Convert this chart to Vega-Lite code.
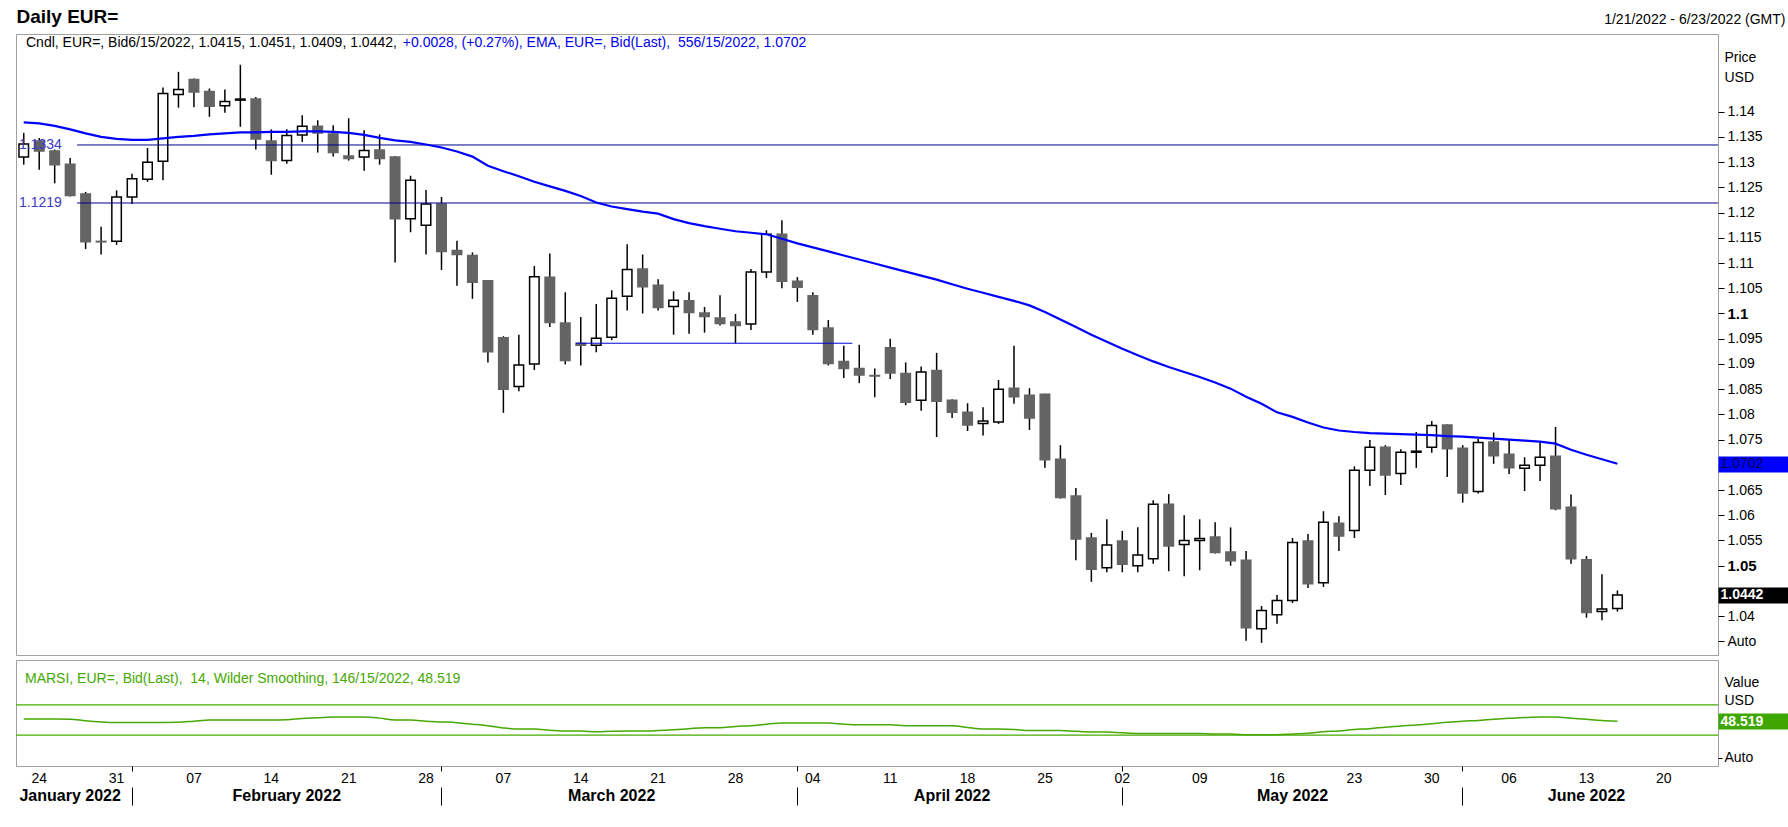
{
  "$schema": "https://vega.github.io/schema/vega-lite/v6.json",
  "background": "white",
  "padding": {"left": 14, "top": 6, "right": 0, "bottom": 0},
  "config": {
    "view": {"stroke": "#a0a0a0"},
    "font": "Liberation Sans",
    "axis": {"grid": false, "labelFont": "Liberation Sans", "titleFont": "Liberation Sans"}
  },
  "datasets": {
    "eur": [
      {"date": "2022-01-21", "open": 1.1310, "high": 1.1358, "low": 1.1295, "close": 1.1336, "ema": 1.1379, "rsi": 51.3},
      {"date": "2022-01-24", "open": 1.1342, "high": 1.1348, "low": 1.1285, "close": 1.1322, "ema": 1.1377, "rsi": 51.3},
      {"date": "2022-01-25", "open": 1.1322, "high": 1.1325, "low": 1.1258, "close": 1.1295, "ema": 1.1372, "rsi": 51.3},
      {"date": "2022-01-26", "open": 1.1296, "high": 1.1308, "low": 1.1232, "close": 1.1234, "ema": 1.1365, "rsi": 51.0},
      {"date": "2022-01-27", "open": 1.1237, "high": 1.1241, "low": 1.1128, "close": 1.1142, "ema": 1.1357, "rsi": 49.0},
      {"date": "2022-01-28", "open": 1.1143, "high": 1.1172, "low": 1.1117, "close": 1.1142, "ema": 1.1350, "rsi": 47.5},
      {"date": "2022-01-31", "open": 1.1143, "high": 1.1244, "low": 1.1136, "close": 1.1231, "ema": 1.1346, "rsi": 46.8},
      {"date": "2022-02-01", "open": 1.1231, "high": 1.1277, "low": 1.1217, "close": 1.1267, "ema": 1.1344, "rsi": 46.8},
      {"date": "2022-02-02", "open": 1.1266, "high": 1.1328, "low": 1.1261, "close": 1.1300, "ema": 1.1344, "rsi": 46.8},
      {"date": "2022-02-03", "open": 1.1302, "high": 1.1448, "low": 1.1264, "close": 1.1436, "ema": 1.1347, "rsi": 46.8},
      {"date": "2022-02-04", "open": 1.1434, "high": 1.1479, "low": 1.1408, "close": 1.1444, "ema": 1.1350, "rsi": 47.0},
      {"date": "2022-02-07", "open": 1.1464, "high": 1.1466, "low": 1.1409, "close": 1.1439, "ema": 1.1352, "rsi": 48.5},
      {"date": "2022-02-08", "open": 1.1440, "high": 1.1446, "low": 1.1390, "close": 1.1411, "ema": 1.1355, "rsi": 50.0},
      {"date": "2022-02-09", "open": 1.1412, "high": 1.1444, "low": 1.1398, "close": 1.1420, "ema": 1.1357, "rsi": 50.0},
      {"date": "2022-02-10", "open": 1.1423, "high": 1.1493, "low": 1.1370, "close": 1.1425, "ema": 1.1359, "rsi": 50.0},
      {"date": "2022-02-11", "open": 1.1425, "high": 1.1429, "low": 1.1325, "close": 1.1346, "ema": 1.1359, "rsi": 50.0},
      {"date": "2022-02-14", "open": 1.1342, "high": 1.1365, "low": 1.1275, "close": 1.1303, "ema": 1.1360, "rsi": 50.0},
      {"date": "2022-02-15", "open": 1.1303, "high": 1.1365, "low": 1.1297, "close": 1.1353, "ema": 1.1360, "rsi": 50.5},
      {"date": "2022-02-16", "open": 1.1354, "high": 1.1393, "low": 1.1340, "close": 1.1371, "ema": 1.1361, "rsi": 52.0},
      {"date": "2022-02-17", "open": 1.1371, "high": 1.1383, "low": 1.1319, "close": 1.1358, "ema": 1.1361, "rsi": 53.0},
      {"date": "2022-02-18", "open": 1.1356, "high": 1.1373, "low": 1.1311, "close": 1.1319, "ema": 1.1360, "rsi": 54.0},
      {"date": "2022-02-21", "open": 1.1312, "high": 1.1387, "low": 1.1303, "close": 1.1307, "ema": 1.1358, "rsi": 54.0},
      {"date": "2022-02-22", "open": 1.1310, "high": 1.1363, "low": 1.1283, "close": 1.1323, "ema": 1.1354, "rsi": 54.0},
      {"date": "2022-02-23", "open": 1.1324, "high": 1.1355, "low": 1.1295, "close": 1.1307, "ema": 1.1348, "rsi": 52.5},
      {"date": "2022-02-24", "open": 1.1310, "high": 1.1312, "low": 1.1101, "close": 1.1188, "ema": 1.1343, "rsi": 50.0},
      {"date": "2022-02-25", "open": 1.1188, "high": 1.1273, "low": 1.1161, "close": 1.1264, "ema": 1.1340, "rsi": 50.0},
      {"date": "2022-02-28", "open": 1.1175, "high": 1.1245, "low": 1.1117, "close": 1.1217, "ema": 1.1335, "rsi": 48.5},
      {"date": "2022-03-01", "open": 1.1217, "high": 1.1231, "low": 1.1086, "close": 1.1123, "ema": 1.1329, "rsi": 47.5},
      {"date": "2022-03-02", "open": 1.1125, "high": 1.1144, "low": 1.1055, "close": 1.1117, "ema": 1.1321, "rsi": 46.5},
      {"date": "2022-03-03", "open": 1.1115, "high": 1.1121, "low": 1.1029, "close": 1.1062, "ema": 1.1311, "rsi": 44.5},
      {"date": "2022-03-04", "open": 1.1065, "high": 1.1066, "low": 1.0903, "close": 1.0924, "ema": 1.1293, "rsi": 42.4},
      {"date": "2022-03-07", "open": 1.0952, "high": 1.0955, "low": 1.0803, "close": 1.0850, "ema": 1.1282, "rsi": 39.5},
      {"date": "2022-03-08", "open": 1.0855, "high": 1.0958, "low": 1.0846, "close": 1.0898, "ema": 1.1272, "rsi": 38.0},
      {"date": "2022-03-09", "open": 1.0900, "high": 1.1094, "low": 1.0888, "close": 1.1073, "ema": 1.1261, "rsi": 38.0},
      {"date": "2022-03-10", "open": 1.1072, "high": 1.1119, "low": 1.0973, "close": 1.0982, "ema": 1.1252, "rsi": 36.5},
      {"date": "2022-03-11", "open": 1.0981, "high": 1.1042, "low": 1.0899, "close": 1.0907, "ema": 1.1243, "rsi": 35.3},
      {"date": "2022-03-14", "open": 1.0941, "high": 1.0993, "low": 1.0897, "close": 1.0937, "ema": 1.1233, "rsi": 35.3},
      {"date": "2022-03-15", "open": 1.0937, "high": 1.1019, "low": 1.0923, "close": 1.0951, "ema": 1.1220, "rsi": 34.4},
      {"date": "2022-03-16", "open": 1.0953, "high": 1.1046, "low": 1.0947, "close": 1.1030, "ema": 1.1212, "rsi": 35.0},
      {"date": "2022-03-17", "open": 1.1034, "high": 1.1137, "low": 1.1006, "close": 1.1087, "ema": 1.1207, "rsi": 35.3},
      {"date": "2022-03-18", "open": 1.1088, "high": 1.1117, "low": 1.1000, "close": 1.1053, "ema": 1.1202, "rsi": 35.3},
      {"date": "2022-03-21", "open": 1.1056, "high": 1.1068, "low": 1.1006, "close": 1.1012, "ema": 1.1198, "rsi": 36.0},
      {"date": "2022-03-22", "open": 1.1014, "high": 1.1044, "low": 1.0958, "close": 1.1026, "ema": 1.1187, "rsi": 37.1},
      {"date": "2022-03-23", "open": 1.1025, "high": 1.1042, "low": 1.0960, "close": 1.1002, "ema": 1.1179, "rsi": 38.5},
      {"date": "2022-03-24", "open": 1.1001, "high": 1.1013, "low": 1.0962, "close": 1.0994, "ema": 1.1173, "rsi": 39.7},
      {"date": "2022-03-25", "open": 1.0991, "high": 1.1036, "low": 1.0976, "close": 1.0980, "ema": 1.1168, "rsi": 39.7},
      {"date": "2022-03-28", "open": 1.0983, "high": 1.0999, "low": 1.0941, "close": 1.0976, "ema": 1.1163, "rsi": 41.5},
      {"date": "2022-03-29", "open": 1.0979, "high": 1.1088, "low": 1.0967, "close": 1.1082, "ema": 1.1160, "rsi": 42.4},
      {"date": "2022-03-30", "open": 1.1082, "high": 1.1165, "low": 1.1070, "close": 1.1157, "ema": 1.1157, "rsi": 44.5},
      {"date": "2022-03-31", "open": 1.1157, "high": 1.1185, "low": 1.1050, "close": 1.1064, "ema": 1.1148, "rsi": 46.0},
      {"date": "2022-04-01", "open": 1.1064, "high": 1.1072, "low": 1.1023, "close": 1.1052, "ema": 1.1139, "rsi": 46.0},
      {"date": "2022-04-04", "open": 1.1035, "high": 1.1042, "low": 1.0958, "close": 1.0968, "ema": 1.1131, "rsi": 46.0},
      {"date": "2022-04-05", "open": 1.0971, "high": 1.0987, "low": 1.0897, "close": 1.0901, "ema": 1.1123, "rsi": 46.0},
      {"date": "2022-04-06", "open": 1.0905, "high": 1.0936, "low": 1.0872, "close": 1.0891, "ema": 1.1115, "rsi": 44.5},
      {"date": "2022-04-07", "open": 1.0891, "high": 1.0938, "low": 1.0862, "close": 1.0878, "ema": 1.1107, "rsi": 43.7},
      {"date": "2022-04-08", "open": 1.0877, "high": 1.0891, "low": 1.0834, "close": 1.0876, "ema": 1.1099, "rsi": 43.7},
      {"date": "2022-04-11", "open": 1.0932, "high": 1.0950, "low": 1.0870, "close": 1.0882, "ema": 1.1091, "rsi": 43.7},
      {"date": "2022-04-12", "open": 1.0881, "high": 1.0903, "low": 1.0818, "close": 1.0824, "ema": 1.1083, "rsi": 42.4},
      {"date": "2022-04-13", "open": 1.0828, "high": 1.0895, "low": 1.0807, "close": 1.0884, "ema": 1.1075, "rsi": 42.4},
      {"date": "2022-04-14", "open": 1.0887, "high": 1.0922, "low": 1.0755, "close": 1.0826, "ema": 1.1067, "rsi": 42.4},
      {"date": "2022-04-15", "open": 1.0828, "high": 1.0830, "low": 1.0793, "close": 1.0804, "ema": 1.1058, "rsi": 42.4},
      {"date": "2022-04-18", "open": 1.0804, "high": 1.0822, "low": 1.0767, "close": 1.0779, "ema": 1.1049, "rsi": 40.0},
      {"date": "2022-04-19", "open": 1.0782, "high": 1.0814, "low": 1.0758, "close": 1.0787, "ema": 1.1041, "rsi": 38.0},
      {"date": "2022-04-20", "open": 1.0785, "high": 1.0868, "low": 1.0781, "close": 1.0850, "ema": 1.1033, "rsi": 38.0},
      {"date": "2022-04-21", "open": 1.0852, "high": 1.0936, "low": 1.0821, "close": 1.0835, "ema": 1.1025, "rsi": 37.5},
      {"date": "2022-04-22", "open": 1.0838, "high": 1.0852, "low": 1.0769, "close": 1.0793, "ema": 1.1016, "rsi": 36.2},
      {"date": "2022-04-25", "open": 1.0840, "high": 1.0841, "low": 1.0694, "close": 1.0710, "ema": 1.1003, "rsi": 36.2},
      {"date": "2022-04-26", "open": 1.0711, "high": 1.0739, "low": 1.0633, "close": 1.0635, "ema": 1.0988, "rsi": 36.2},
      {"date": "2022-04-27", "open": 1.0638, "high": 1.0654, "low": 1.0511, "close": 1.0553, "ema": 1.0973, "rsi": 35.0},
      {"date": "2022-04-28", "open": 1.0555, "high": 1.0565, "low": 1.0468, "close": 1.0493, "ema": 1.0958, "rsi": 34.0},
      {"date": "2022-04-29", "open": 1.0496, "high": 1.0592, "low": 1.0487, "close": 1.0541, "ema": 1.0944, "rsi": 34.0},
      {"date": "2022-05-02", "open": 1.0549, "high": 1.0569, "low": 1.0487, "close": 1.0503, "ema": 1.0930, "rsi": 33.0},
      {"date": "2022-05-03", "open": 1.0500, "high": 1.0576, "low": 1.0487, "close": 1.0521, "ema": 1.0917, "rsi": 32.2},
      {"date": "2022-05-04", "open": 1.0514, "high": 1.0630, "low": 1.0504, "close": 1.0622, "ema": 1.0905, "rsi": 32.2},
      {"date": "2022-05-05", "open": 1.0622, "high": 1.0642, "low": 1.0489, "close": 1.0539, "ema": 1.0894, "rsi": 32.2},
      {"date": "2022-05-06", "open": 1.0542, "high": 1.0600, "low": 1.0479, "close": 1.0550, "ema": 1.0884, "rsi": 32.2},
      {"date": "2022-05-09", "open": 1.0550, "high": 1.0592, "low": 1.0491, "close": 1.0554, "ema": 1.0874, "rsi": 32.2},
      {"date": "2022-05-10", "open": 1.0557, "high": 1.0586, "low": 1.0524, "close": 1.0526, "ema": 1.0863, "rsi": 31.3},
      {"date": "2022-05-11", "open": 1.0527, "high": 1.0576, "low": 1.0500, "close": 1.0510, "ema": 1.0851, "rsi": 31.3},
      {"date": "2022-05-12", "open": 1.0511, "high": 1.0529, "low": 1.0351, "close": 1.0377, "ema": 1.0835, "rsi": 30.6},
      {"date": "2022-05-13", "open": 1.0375, "high": 1.0420, "low": 1.0347, "close": 1.0411, "ema": 1.0821, "rsi": 30.4},
      {"date": "2022-05-16", "open": 1.0403, "high": 1.0442, "low": 1.0385, "close": 1.0431, "ema": 1.0804, "rsi": 30.4},
      {"date": "2022-05-17", "open": 1.0431, "high": 1.0555, "low": 1.0426, "close": 1.0546, "ema": 1.0795, "rsi": 31.5},
      {"date": "2022-05-18", "open": 1.0549, "high": 1.0563, "low": 1.0456, "close": 1.0464, "ema": 1.0784, "rsi": 32.5},
      {"date": "2022-05-19", "open": 1.0466, "high": 1.0608, "low": 1.0458, "close": 1.0586, "ema": 1.0774, "rsi": 34.5},
      {"date": "2022-05-20", "open": 1.0584, "high": 1.0598, "low": 1.0529, "close": 1.0559, "ema": 1.0768, "rsi": 35.5},
      {"date": "2022-05-23", "open": 1.0570, "high": 1.0697, "low": 1.0555, "close": 1.0689, "ema": 1.0765, "rsi": 37.5},
      {"date": "2022-05-24", "open": 1.0689, "high": 1.0749, "low": 1.0658, "close": 1.0735, "ema": 1.0763, "rsi": 38.5},
      {"date": "2022-05-25", "open": 1.0735, "high": 1.0739, "low": 1.0640, "close": 1.0680, "ema": 1.0762, "rsi": 40.5},
      {"date": "2022-05-26", "open": 1.0683, "high": 1.0731, "low": 1.0660, "close": 1.0725, "ema": 1.0761, "rsi": 42.0},
      {"date": "2022-05-27", "open": 1.0725, "high": 1.0765, "low": 1.0694, "close": 1.0727, "ema": 1.0760, "rsi": 43.3},
      {"date": "2022-05-30", "open": 1.0735, "high": 1.0787, "low": 1.0724, "close": 1.0778, "ema": 1.0759, "rsi": 45.0},
      {"date": "2022-05-31", "open": 1.0779, "high": 1.0780, "low": 1.0676, "close": 1.0732, "ema": 1.0757, "rsi": 47.0},
      {"date": "2022-06-01", "open": 1.0733, "high": 1.0739, "low": 1.0625, "close": 1.0644, "ema": 1.0756, "rsi": 48.5},
      {"date": "2022-06-02", "open": 1.0647, "high": 1.0751, "low": 1.0643, "close": 1.0744, "ema": 1.0754, "rsi": 49.3},
      {"date": "2022-06-03", "open": 1.0745, "high": 1.0764, "low": 1.0702, "close": 1.0718, "ema": 1.0752, "rsi": 51.0},
      {"date": "2022-06-06", "open": 1.0721, "high": 1.0749, "low": 1.0682, "close": 1.0694, "ema": 1.0750, "rsi": 52.2},
      {"date": "2022-06-07", "open": 1.0693, "high": 1.0715, "low": 1.0648, "close": 1.0699, "ema": 1.0748, "rsi": 53.3},
      {"date": "2022-06-08", "open": 1.0699, "high": 1.0746, "low": 1.0668, "close": 1.0715, "ema": 1.0746, "rsi": 54.0},
      {"date": "2022-06-09", "open": 1.0717, "high": 1.0775, "low": 1.0610, "close": 1.0613, "ema": 1.0742, "rsi": 54.0},
      {"date": "2022-06-10", "open": 1.0616, "high": 1.0641, "low": 1.0504, "close": 1.0514, "ema": 1.0730, "rsi": 52.5},
      {"date": "2022-06-13", "open": 1.0512, "high": 1.0519, "low": 1.0397, "close": 1.0407, "ema": 1.0720, "rsi": 51.0},
      {"date": "2022-06-14", "open": 1.0409, "high": 1.0483, "low": 1.0392, "close": 1.0414, "ema": 1.0711, "rsi": 49.5},
      {"date": "2022-06-15", "open": 1.0415, "high": 1.0451, "low": 1.0409, "close": 1.0442, "ema": 1.0702, "rsi": 48.519}
    ]
  },
  "spacing": 3,
  "vconcat": [
    {
      "width": 1702,
      "height": 621,
      "data": {"name": "eur"},
      "encoding": {
        "x": {
          "field": "date",
          "type": "ordinal",
          "axis": null,
          "scale": {
            "type": "band",
            "paddingInner": 0,
            "paddingOuter": 0,
            "domain": ["2022-01-21","2022-01-24","2022-01-25","2022-01-26","2022-01-27","2022-01-28","2022-01-31","2022-02-01","2022-02-02","2022-02-03","2022-02-04","2022-02-07","2022-02-08","2022-02-09","2022-02-10","2022-02-11","2022-02-14","2022-02-15","2022-02-16","2022-02-17","2022-02-18","2022-02-21","2022-02-22","2022-02-23","2022-02-24","2022-02-25","2022-02-28","2022-03-01","2022-03-02","2022-03-03","2022-03-04","2022-03-07","2022-03-08","2022-03-09","2022-03-10","2022-03-11","2022-03-14","2022-03-15","2022-03-16","2022-03-17","2022-03-18","2022-03-21","2022-03-22","2022-03-23","2022-03-24","2022-03-25","2022-03-28","2022-03-29","2022-03-30","2022-03-31","2022-04-01","2022-04-04","2022-04-05","2022-04-06","2022-04-07","2022-04-08","2022-04-11","2022-04-12","2022-04-13","2022-04-14","2022-04-15","2022-04-18","2022-04-19","2022-04-20","2022-04-21","2022-04-22","2022-04-25","2022-04-26","2022-04-27","2022-04-28","2022-04-29","2022-05-02","2022-05-03","2022-05-04","2022-05-05","2022-05-06","2022-05-09","2022-05-10","2022-05-11","2022-05-12","2022-05-13","2022-05-16","2022-05-17","2022-05-18","2022-05-19","2022-05-20","2022-05-23","2022-05-24","2022-05-25","2022-05-26","2022-05-27","2022-05-30","2022-05-31","2022-06-01","2022-06-02","2022-06-03","2022-06-06","2022-06-07","2022-06-08","2022-06-09","2022-06-10","2022-06-13","2022-06-14","2022-06-15","2022-06-16","2022-06-17","2022-06-20","2022-06-21","2022-06-22","2022-06-23"]
          }
        }
      },
      "layer": [
        {
          "mark": {"type": "rule", "color": "black", "strokeWidth": 1.5},
          "encoding": {
            "y": {
              "field": "low", "type": "quantitative",
              "scale": {"domain": [1.0323, 1.1554], "nice": false, "zero": false},
              "axis": {
                "orient": "left", "labels": false, "ticks": false, "domain": false, "minExtent": 0,
                "title": "Daily EUR=", "titleAngle": 0, "titleAlign": "left", "titleBaseline": "middle",
                "titleX": 0, "titleY": -18, "titleFontSize": 19, "titleFontWeight": "bold", "titleColor": "black"
              }
            },
            "y2": {"field": "high"}
          }
        },
        {
          "mark": {"type": "bar", "width": 9.5, "strokeWidth": 1.5},
          "encoding": {
            "y": {
              "field": "open", "type": "quantitative",
              "scale": {"domain": [1.0323, 1.1554], "nice": false, "zero": false},
              "axis": {
                "orient": "right", "domain": false,
                "values": [1.035, 1.04, 1.045, 1.05, 1.055, 1.06, 1.065, 1.07, 1.075, 1.08, 1.085, 1.09, 1.095, 1.1, 1.105, 1.11, 1.115, 1.12, 1.125, 1.13, 1.135, 1.14],
                "labelExpr": "datum.value < 1.0375 ? 'Auto' : ((abs(datum.value - 1.045) < 0.0001 || abs(datum.value - 1.07) < 0.0001) ? '' : format(datum.value, '.4~r'))",
                "tickSize": 6, "tickColor": "black", "labelPadding": 3, "labelColor": "black",
                "labelFontSize": {"condition": {"test": "abs(datum.value - 1.05) < 0.0001 || abs(datum.value - 1.1) < 0.0001", "value": 15}, "value": 14},
                "labelFontWeight": {"condition": {"test": "abs(datum.value - 1.05) < 0.0001 || abs(datum.value - 1.1) < 0.0001", "value": "bold"}, "value": "normal"},
                "title": ["Price", "USD"], "titleAngle": 0, "titleAlign": "left", "titleBaseline": "top",
                "titleX": 6, "titleY": 16, "titleLineHeight": 20, "titleFontSize": 14, "titleFontWeight": "normal", "titleColor": "black"
              }
            },
            "y2": {"field": "close"},
            "fill": {"condition": {"test": "datum.close >= datum.open", "value": "white"}, "value": "#646464"},
            "stroke": {"condition": {"test": "datum.close >= datum.open", "value": "black"}, "value": "#646464"}
          }
        },
        {
          "data": {"values": [{"price": 1.1334}, {"price": 1.1219}]},
          "mark": {"type": "rule", "color": "#00008b", "strokeWidth": 1},
          "encoding": {
            "x": {"datum": "2022-01-26", "type": "ordinal", "bandPosition": 0.95, "axis": null},
            "x2": {"datum": "2022-06-23", "bandPosition": 1},
            "y": {"field": "price", "type": "quantitative", "scale": {"domain": [1.0323, 1.1554], "nice": false, "zero": false}, "axis": null}
          }
        },
        {
          "data": {"values": [{"price": 1.1334, "label": "1.1334"}, {"price": 1.1219, "label": "1.1219"}]},
          "mark": {"type": "text", "align": "left", "baseline": "middle", "dx": 3, "fontSize": 14, "color": "#3a3ac0"},
          "encoding": {
            "x": {"datum": "2022-01-21", "type": "ordinal", "bandPosition": 0, "axis": null},
            "y": {"field": "price", "type": "quantitative", "scale": {"domain": [1.0323, 1.1554], "nice": false, "zero": false}, "axis": null},
            "text": {"field": "label"}
          }
        },
        {
          "data": {"values": [{"price": 1.0941}]},
          "mark": {"type": "rule", "color": "#0000dd", "strokeWidth": 1},
          "encoding": {
            "x": {"datum": "2022-03-14", "type": "ordinal", "bandPosition": 0.2, "axis": null},
            "x2": {"datum": "2022-04-07", "bandPosition": 0.05},
            "y": {"field": "price", "type": "quantitative", "scale": {"domain": [1.0323, 1.1554], "nice": false, "zero": false}, "axis": null}
          }
        },
        {
          "mark": {"type": "line", "color": "#0000ff", "strokeWidth": 2.2},
          "encoding": {
            "y": {
              "field": "ema", "type": "quantitative",
              "scale": {"domain": [1.0323, 1.1554], "nice": false, "zero": false},
              "axis": {
                "orient": "right", "domain": false, "zindex": 1,
                "values": [1.0702, 1.0442],
                "labelExpr": "format(datum.value, '.4f')",
                "tickSize": 70, "tickWidth": 16, "tickCap": "butt", "labelPadding": -68, "labelFontSize": 14,
                "tickColor": {"condition": {"test": "datum.value > 1.06", "value": "#0000ff"}, "value": "black"},
                "labelColor": {"condition": {"test": "datum.value > 1.06", "value": "#000050"}, "value": "white"},
                "labelFontWeight": {"condition": {"test": "datum.value > 1.06", "value": "normal"}, "value": "bold"},
                "title": "1/21/2022 - 6/23/2022 (GMT)", "titleAngle": 0, "titleAlign": "right", "titleBaseline": "middle",
                "titleX": 67, "titleY": -15, "titleFontSize": 14, "titleFontWeight": "normal", "titleColor": "black"
              }
            }
          }
        },
        {
          "data": {"values": [{"t": "Cndl, EUR=, Bid6/15/2022, 1.0415, 1.0451, 1.0409, 1.0442,"}]},
          "mark": {"type": "text", "align": "left", "baseline": "middle", "dx": 10, "fontSize": 14, "color": "black"},
          "encoding": {
            "x": {"datum": "2022-01-21", "type": "ordinal", "bandPosition": 0, "axis": null},
            "y": {"datum": 1.1536, "type": "quantitative", "scale": {"domain": [1.0323, 1.1554], "nice": false, "zero": false}, "axis": null},
            "text": {"field": "t"}
          }
        },
        {
          "data": {"values": [{"t": "+0.0028, (+0.27%), EMA, EUR=, Bid(Last),\u00a0 556/15/2022, 1.0702"}]},
          "mark": {"type": "text", "align": "left", "baseline": "middle", "fontSize": 14, "color": "#0000ee"},
          "encoding": {
            "x": {"datum": "2022-02-25", "type": "ordinal", "bandPosition": 0, "axis": null},
            "y": {"datum": 1.1536, "type": "quantitative", "scale": {"domain": [1.0323, 1.1554], "nice": false, "zero": false}, "axis": null},
            "text": {"field": "t"}
          }
        }
      ],
      "resolve": {"axis": {"y": "independent"}}
    },
    {
      "width": 1702,
      "height": 106,
      "data": {"name": "eur"},
      "encoding": {
        "x": {
          "field": "date",
          "type": "ordinal",
          "scale": {
            "type": "band",
            "paddingInner": 0,
            "paddingOuter": 0,
            "domain": ["2022-01-21","2022-01-24","2022-01-25","2022-01-26","2022-01-27","2022-01-28","2022-01-31","2022-02-01","2022-02-02","2022-02-03","2022-02-04","2022-02-07","2022-02-08","2022-02-09","2022-02-10","2022-02-11","2022-02-14","2022-02-15","2022-02-16","2022-02-17","2022-02-18","2022-02-21","2022-02-22","2022-02-23","2022-02-24","2022-02-25","2022-02-28","2022-03-01","2022-03-02","2022-03-03","2022-03-04","2022-03-07","2022-03-08","2022-03-09","2022-03-10","2022-03-11","2022-03-14","2022-03-15","2022-03-16","2022-03-17","2022-03-18","2022-03-21","2022-03-22","2022-03-23","2022-03-24","2022-03-25","2022-03-28","2022-03-29","2022-03-30","2022-03-31","2022-04-01","2022-04-04","2022-04-05","2022-04-06","2022-04-07","2022-04-08","2022-04-11","2022-04-12","2022-04-13","2022-04-14","2022-04-15","2022-04-18","2022-04-19","2022-04-20","2022-04-21","2022-04-22","2022-04-25","2022-04-26","2022-04-27","2022-04-28","2022-04-29","2022-05-02","2022-05-03","2022-05-04","2022-05-05","2022-05-06","2022-05-09","2022-05-10","2022-05-11","2022-05-12","2022-05-13","2022-05-16","2022-05-17","2022-05-18","2022-05-19","2022-05-20","2022-05-23","2022-05-24","2022-05-25","2022-05-26","2022-05-27","2022-05-30","2022-05-31","2022-06-01","2022-06-02","2022-06-03","2022-06-06","2022-06-07","2022-06-08","2022-06-09","2022-06-10","2022-06-13","2022-06-14","2022-06-15","2022-06-16","2022-06-17","2022-06-20","2022-06-21","2022-06-22","2022-06-23"]
          },
          "axis": {
            "orient": "bottom", "title": null, "domain": false, "ticks": false,
            "values": ["2022-01-24","2022-01-31","2022-02-07","2022-02-14","2022-02-21","2022-02-28","2022-03-07","2022-03-14","2022-03-21","2022-03-28","2022-04-04","2022-04-11","2022-04-18","2022-04-25","2022-05-02","2022-05-09","2022-05-16","2022-05-23","2022-05-30","2022-06-06","2022-06-13","2022-06-20"],
            "labelExpr": "substring(datum.value, 8, 10)",
            "labelAngle": 0, "labelPadding": 5, "labelFontSize": 14, "labelColor": "black", "labelOverlap": false
          }
        }
      },
      "layer": [
        {
          "data": {"values": [{"v": 70}, {"v": 30}]},
          "mark": {"type": "rule", "color": "#46a800", "strokeWidth": 1.2},
          "encoding": {
            "x": {"datum": "2022-01-21", "type": "ordinal", "bandPosition": 0, "axis": null},
            "x2": {"datum": "2022-06-23", "bandPosition": 1},
            "y": {"field": "v", "type": "quantitative", "scale": {"domain": [-11, 129.6], "nice": false, "zero": false}, "axis": null}
          }
        },
        {
          "mark": {"type": "line", "color": "#46a800", "strokeWidth": 1.5, "interpolate": "monotone"},
          "encoding": {
            "y": {
              "field": "rsi", "type": "quantitative",
              "scale": {"domain": [-11, 129.6], "nice": false, "zero": false},
              "axis": {
                "orient": "right", "domain": false, "values": [0], "labelExpr": "'Auto'",
                "tickSize": 4, "tickColor": "black", "labelPadding": 2, "labelFontSize": 14, "labelColor": "black",
                "title": ["Value", "USD"], "titleAngle": 0, "titleAlign": "left", "titleBaseline": "top",
                "titleX": 6, "titleY": 15, "titleLineHeight": 18, "titleFontSize": 14, "titleFontWeight": "normal", "titleColor": "black"
              }
            }
          }
        },
        {
          "mark": {"type": "point", "opacity": 0},
          "encoding": {
            "x": {
              "field": "date", "type": "ordinal",
              "axis": {
                "orient": "bottom", "title": null, "domain": false, "labels": false,
                "values": ["2022-02-01", "2022-03-01", "2022-04-01", "2022-05-02", "2022-06-01"],
                "ticks": true, "tickSize": 39, "tickColor": "black", "tickWidth": 1, "tickDash": [5, 16, 18]
              }
            },
            "y": {
              "field": "rsi", "type": "quantitative",
              "scale": {"domain": [-11, 129.6], "nice": false, "zero": false},
              "axis": {
                "orient": "right", "domain": false, "zindex": 1, "title": null,
                "values": [48.519], "labelExpr": "'48.519'",
                "tickSize": 70, "tickWidth": 16, "tickCap": "butt", "tickColor": "#3fa600",
                "labelPadding": -68, "labelColor": "white", "labelFontWeight": "bold", "labelFontSize": 14
              }
            }
          }
        },
        {
          "mark": {"type": "point", "opacity": 0},
          "encoding": {
            "x": {
              "field": "date", "type": "ordinal",
              "axis": {
                "orient": "bottom", "title": null, "domain": false, "ticks": false,
                "values": ["2022-01-26", "2022-02-15", "2022-03-16", "2022-04-15", "2022-05-17", "2022-06-13"],
                "labelExpr": "utcFormat(toDate(datum.value), '%B %Y')",
                "labelAngle": 0, "labelPadding": 21, "labelFontSize": 16, "labelFontWeight": "bold", "labelColor": "black",
                "labelOverlap": false, "labelFlush": false, "labelBound": false
              }
            },
            "y": {"field": "rsi", "type": "quantitative", "scale": {"domain": [-11, 129.6], "nice": false, "zero": false}, "axis": null}
          }
        },
        {
          "data": {"values": [{"t": "MARSI, EUR=, Bid(Last),\u00a0 14, Wilder Smoothing, 146/15/2022, 48.519"}]},
          "mark": {"type": "text", "align": "left", "baseline": "middle", "dx": 9, "fontSize": 14, "color": "#46a800"},
          "encoding": {
            "x": {"datum": "2022-01-21", "type": "ordinal", "bandPosition": 0, "axis": null},
            "y": {"datum": 104, "type": "quantitative", "scale": {"domain": [-11, 129.6], "nice": false, "zero": false}, "axis": null},
            "text": {"field": "t"}
          }
        }
      ],
      "resolve": {"axis": {"x": "independent", "y": "independent"}}
    }
  ]
}
